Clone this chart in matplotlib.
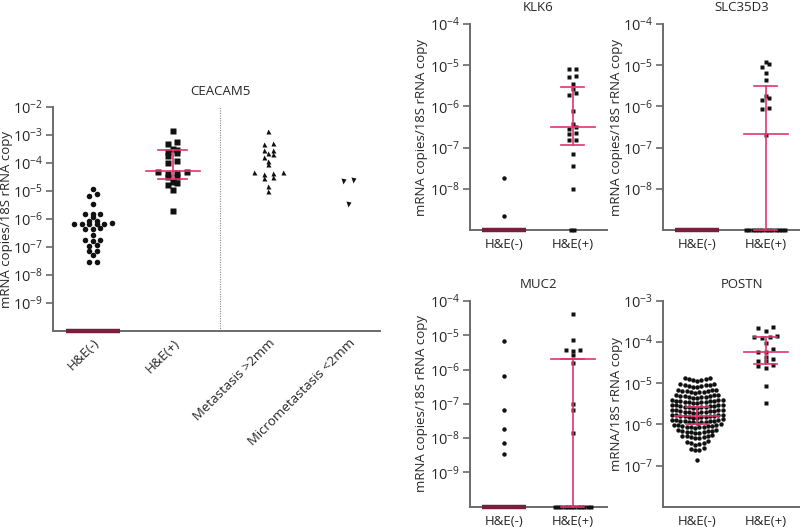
import numpy as np
import matplotlib
matplotlib.use('Agg')
import matplotlib.pyplot as plt
from matplotlib.transforms import blended_transform_factory

plt.rcParams['font.family'] = ['Open Sans', 'DejaVu Sans']
plt.rcParams['mathtext.fontset'] = 'custom'
plt.rcParams['mathtext.rm'] = 'Open Sans'
plt.rcParams['mathtext.default'] = 'regular'

PINK = '#e3336c'
MAROON = '#7b1d3d'
SPINE = '#6a6a6a'
TXT = '#262626'

# ---------------- data ----------------
ceacam_cats = ['H&E(-)', 'H&E(+)', 'Metastasis >2mm', 'Micrometastasis <2mm']
ceacam_neg = [1.2e-5, 8.0e-6, 6.8e-6, 3.5e-6, 1.5e-6, 1.5e-6, 1.5e-6, 1.15e-6,
              8.7e-7, 8.5e-7, 7.0e-7, 6.9e-7, 6.8e-7, 6.6e-7, 6.5e-7, 6.4e-7,
              4.6e-7, 4.5e-7, 4.4e-7, 2.7e-7, 1.8e-7, 1.75e-7, 1.7e-7,
              1.15e-7, 1.1e-7, 7.2e-8, 7.0e-8, 5.0e-8, 2.9e-8, 2.8e-8]
ceacam_pos = [1.4e-3, 5.4e-4, 4.8e-4, 3.1e-4, 3.0e-4, 2.4e-4, 2.2e-4, 1.8e-4,
              1.2e-4, 9.8e-5, 4.9e-5, 4.9e-5, 4.3e-5, 4.1e-5, 3.1e-5, 3.1e-5,
              2.1e-5, 1.9e-5, 1.6e-5, 1.1e-5, 1.9e-6]
ceacam_met = [1.4e-3, 5.0e-4, 4.8e-4, 3.0e-4, 2.9e-4, 2.3e-4, 2.1e-4, 1.7e-4,
              1.2e-4, 9.1e-5, 4.9e-5, 4.9e-5, 4.3e-5, 4.1e-5, 3.2e-5, 3.0e-5,
              1.5e-5, 1.0e-5]
ceacam_micro = [2.5e-5, 2.3e-5, 3.5e-6]
ceacam_med = [0, 5.2e-5]
ceacam_q1 = [0, 2.7e-5]
ceacam_q3 = [0, 3.0e-4]

he_cats = ['H&E(-)', 'H&E(+)']

klk6_neg = [1.8e-8, 2.2e-9]
klk6_pos = [8.3e-6, 7.9e-6, 5.6e-6, 5.2e-6, 3.5e-6, 2.6e-6, 2.1e-6, 1.9e-6,
            7.6e-7, 3.8e-7, 3.1e-7, 2.8e-7, 2.2e-7, 2.1e-7, 1.55e-7, 1.5e-7,
            7.1e-8, 3.5e-8, 1.0e-8]
klk6_zeros = [20, 2]
klk6_med = [0, 3.1e-7]
klk6_q1 = [0, 1.15e-7]
klk6_q3 = [0, 3.0e-6]

slc_neg = []
slc_pos = [1.2e-5, 1.05e-5, 9.1e-6, 6.6e-6, 4.4e-6, 1.8e-6, 1.6e-6, 1.4e-6,
           8.9e-7, 8.5e-7, 2.0e-7]
slc_zeros = [24, 13]
slc_med = [0, 2.1e-7]
slc_q1 = [0, 0]
slc_q3 = [0, 3.1e-6]

muc2_neg = [6.6e-6, 6.6e-7, 6.8e-8, 1.9e-8, 7.4e-9, 3.4e-9]
muc2_pos = [4.1e-5, 7.2e-6, 3.7e-6, 3.6e-6, 3.5e-6, 2.7e-6, 1.6e-6,
            9.8e-8, 6.5e-8, 1.4e-8]
muc2_zeros = [20, 12]
muc2_med = [0, 2.1e-6]
muc2_q1 = [0, 0]
muc2_q3 = [0, 2.1e-6]

postn_neg = [1.15e-5, 1.18e-5, 1.22e-5, 1.26e-5, 1.30e-5, 1.34e-5, 1.38e-5,
             8.1e-6, 8.3e-6, 8.5e-6, 8.7e-6, 8.9e-6, 9.1e-6, 9.3e-6, 9.5e-6, 9.7e-6,
             5.9e-6, 6.0e-6, 6.1e-6, 6.3e-6, 6.4e-6, 6.5e-6, 6.6e-6, 6.8e-6, 6.9e-6, 7.0e-6,
             4.4e-6, 4.45e-6, 4.55e-6, 4.6e-6, 4.7e-6, 4.8e-6, 4.85e-6, 4.95e-6, 5.05e-6, 5.1e-6, 5.2e-6,
             3.31e-6, 3.36e-6, 3.42e-6, 3.47e-6, 3.53e-6, 3.58e-6, 3.63e-6, 3.69e-6, 3.75e-6,
             3.80e-6, 3.86e-6, 3.92e-6, 3.98e-6,
             2.51e-6, 2.55e-6, 2.59e-6, 2.63e-6, 2.68e-6, 2.72e-6, 2.75e-6, 2.80e-6, 2.84e-6,
             2.89e-6, 2.93e-6, 2.97e-6, 3.02e-6,
             1.91e-6, 1.94e-6, 1.97e-6, 2.00e-6, 2.03e-6, 2.06e-6, 2.09e-6, 2.12e-6, 2.15e-6,
             2.19e-6, 2.22e-6, 2.26e-6, 2.29e-6,
             1.45e-6, 1.47e-6, 1.49e-6, 1.52e-6, 1.54e-6, 1.56e-6, 1.59e-6, 1.61e-6, 1.64e-6,
             1.66e-6, 1.69e-6, 1.71e-6, 1.74e-6,
             1.10e-6, 1.12e-6, 1.13e-6, 1.15e-6, 1.17e-6, 1.19e-6, 1.20e-6, 1.22e-6, 1.24e-6,
             1.26e-6, 1.28e-6, 1.30e-6, 1.32e-6,
             8.3e-7, 8.45e-7, 8.6e-7, 8.75e-7, 8.9e-7, 9.05e-7, 9.2e-7, 9.35e-7, 9.5e-7,
             9.65e-7, 9.8e-7, 1.0e-6,
             6.2e-7, 6.3e-7, 6.45e-7, 6.6e-7, 6.7e-7, 6.85e-7, 6.95e-7, 7.1e-7, 7.25e-7, 7.4e-7,
             4.6e-7, 4.7e-7, 4.85e-7, 5.0e-7, 5.1e-7, 5.2e-7, 5.35e-7, 5.5e-7,
             3.25e-7, 3.4e-7, 3.5e-7, 3.6e-7, 3.75e-7, 3.9e-7,
             2.35e-7, 2.45e-7, 2.55e-7, 2.65e-7,
             1.35e-7]
postn_pos = [2.3e-4, 2.2e-4, 1.9e-4, 1.4e-4, 1.35e-4, 1.3e-4, 1.25e-4, 9.5e-5,
             7.0e-5, 5.8e-5, 5.6e-5, 4.4e-5, 3.8e-5, 3.5e-5, 3.4e-5, 2.8e-5,
             2.7e-5, 2.4e-5, 8.5e-6, 3.3e-6]
postn_zeros = [20, 0]
postn_med = [1.6e-6, 5.7e-5]
postn_q1 = [1.0e-6, 2.9e-5]
postn_q3 = [2.6e-6, 1.35e-4]


# ---------------- helpers ----------------
def swarm_offsets(vals, w, dx):
    v = np.asarray(vals, float)
    if v.size == 0:
        return v
    lv = np.log10(v)
    order = np.argsort(lv, kind='stable')
    offs = np.zeros(v.size)
    i = 0
    while i < order.size:
        start = lv[order[i]]
        j = i
        while j < order.size and lv[order[j]] <= start + w:
            j += 1
        idx = order[i:j]
        n = idx.size
        slots = (np.arange(n) - (n - 1) / 2.0) * dx
        slot_order = np.argsort(np.abs(slots) + 1e-9 * np.arange(n), kind='stable')
        for k, s in enumerate(slot_order):
            offs[idx[k]] = slots[s]
        i = j
    return offs


def plot_group(ax, x, vals, marker, ms, w, dx, nzero=0, zdx=0.048, draw_zero=True):
    v = np.asarray(vals, float)
    if v.size:
        off = swarm_offsets(v, w, dx)
        ax.plot(x + off, v, linestyle='none', marker=marker, ms=ms, color='#111111',
                mec='none', zorder=3, clip_on=False)
    if nzero and draw_zero:
        ybot = ax.get_ylim()[0]
        zo = (np.arange(nzero) - (nzero - 1) / 2.0) * zdx
        ax.plot(x + zo, np.full(nzero, ybot), linestyle='none', marker=marker, ms=ms,
                color='#111111', mec='none', zorder=3, clip_on=False)


def draw_stats(ax, x, med, q1, q3, hw_med=0.32, hw_cap=0.17):
    ybot = ax.get_ylim()[0]
    if med == 0 and q3 == 0:
        ax.plot([x - hw_med, x + hw_med], [ybot, ybot], color=MAROON, lw=3.2,
                solid_capstyle='butt', zorder=5, clip_on=False)
        return
    lo = q1 if q1 > 0 else ybot
    hi = q3 if q3 > 0 else ybot
    ax.plot([x, x], [lo, hi], color=PINK, lw=1.2, zorder=4, clip_on=False)
    ax.plot([x - hw_cap, x + hw_cap], [hi, hi], color=PINK, lw=1.2, zorder=4, clip_on=False)
    ax.plot([x - hw_cap, x + hw_cap], [lo, lo], color=PINK, lw=1.2, zorder=4, clip_on=False)
    ax.plot([x - hw_med, x + hw_med], [med, med], color=PINK, lw=1.2, zorder=4, clip_on=False)


def style_axes(ax, lo_exp, hi_exp, top_tick, bottom_tick, ylabel, label_x):
    ax.set_yscale('log')
    ax.set_ylim(10.0 ** lo_exp, 10.0 ** hi_exp)
    ticks_e = list(range(bottom_tick, top_tick + 1))
    ax.set_yticks([10.0 ** e for e in ticks_e])
    ax.set_yticklabels(['$10^{%d}$' % e for e in ticks_e])
    ax.yaxis.set_minor_locator(matplotlib.ticker.NullLocator())
    for s in ['top', 'right']:
        ax.spines[s].set_visible(False)
    for s in ['left', 'bottom']:
        ax.spines[s].set_color(SPINE)
        ax.spines[s].set_linewidth(1.4)
    ax.tick_params(axis='y', length=5, width=1.2, color=SPINE, labelsize=10.5,
                   labelcolor=TXT, pad=2)
    ax.tick_params(axis='x', length=0, labelsize=9.5, labelcolor=TXT, pad=6)
    ax.set_ylabel(ylabel, fontsize=9.5, color=TXT)
    ax.yaxis.set_label_coords(label_x, 0.5)
    ax.patch.set_alpha(0)


fig = plt.figure(figsize=(8.0, 5.27), dpi=100)
W, H = 800.0, 527.0


def px_axes(l, t, r, b):
    return fig.add_axes([l / W, 1 - b / H, (r - l) / W, (b - t) / H])


# ---------------- CEACAM5 ----------------
ax = px_axes(53, 107, 380, 331)
xpos = [0, 1, 2.2, 3.2]
ax.set_xlim(-0.5, 3.6)
style_axes(ax, -10, -2, -2, -9, 'mRNA copies/18S rRNA copy', (13 - 53) / 327.0)
plot_group(ax, xpos[0], ceacam_neg, 'o', 4.0, 0.1, 0.095)
plot_group(ax, xpos[1], ceacam_pos, 's', 4.2, 0.1, 0.12)
plot_group(ax, xpos[2], ceacam_met, '^', 3.6, 0.1, 0.12)
plot_group(ax, xpos[3], ceacam_micro, 'v', 3.6, 0.1, 0.12)
for i in range(2):
    draw_stats(ax, xpos[i], ceacam_med[i], ceacam_q1[i], ceacam_q3[i], hw_med=0.34, hw_cap=0.18)
sep = (xpos[1] + xpos[2]) / 2
ax.axvline(sep, color='#888888', lw=0.8, ls=(0, (1, 1.2)), zorder=1)
ax.set_xticks(xpos)
ax.set_xticklabels(ceacam_cats, rotation=45, ha='right', rotation_mode='anchor')
ax.tick_params(axis='x', pad=4)
tr = blended_transform_factory(ax.transData, ax.transAxes)
ax.text(sep, 1.04, 'CEACAM5', transform=tr, ha='center', va='bottom', fontsize=9.5, color=TXT)

# ---------------- small panels ----------------
panels = [
    ((470, 24, 607, 230), 'KLK6', klk6_neg, klk6_pos, klk6_zeros, klk6_med, klk6_q1, klk6_q3,
     (-9, -4, -4, -8), 'mRNA copies/18S rRNA copy', 0.5, (428 - 470) / 137.0),
    ((663, 24, 800, 230), 'SLC35D3', slc_neg, slc_pos, slc_zeros, slc_med, slc_q1, slc_q3,
     (-9, -4, -4, -8), 'mRNA copies/18S rRNA copy', 0.577, (623 - 663) / 137.0),
    ((470, 301, 607, 506.7), 'MUC2', muc2_neg, muc2_pos, muc2_zeros, muc2_med, muc2_q1, muc2_q3,
     (-10, -4, -4, -9), 'mRNA copies/18S rRNA copy', 0.5, (428 - 470) / 137.0),
    ((663, 301, 800, 506.7), 'POSTN', postn_neg, postn_pos, postn_zeros, postn_med, postn_q1, postn_q3,
     (-8, -3, -3, -7), 'mRNA/18S rRNA copy', 0.577, (623 - 663) / 137.0),
]

for box, title, neg, pos, zeros, med, q1, q3, lim, ylab, tx, lx in panels:
    ax = px_axes(*box)
    ax.set_xlim(-0.5, 1.5)
    style_axes(ax, lim[0], lim[1], lim[2], lim[3], ylab, lx)
    if title == 'POSTN':
        plot_group(ax, 0, neg, 'o', 3.2, 0.09, 0.062, zeros[0], draw_zero=False)
        plot_group(ax, 1, pos, 's', 3.4, 0.1, 0.11, zeros[1])
    else:
        plot_group(ax, 0, neg, 'o', 3.2, 0.1, 0.1, zeros[0], draw_zero=(med[0] != 0))
        plot_group(ax, 1, pos, 's', 3.4, 0.1, 0.1, zeros[1])
    for i in range(2):
        draw_stats(ax, i, med[i], q1[i], q3[i])
    ax.set_xticks([0, 1])
    ax.set_xticklabels(he_cats)
    ax.text(tx, 1.0 + 10.0 / (box[3] - box[1]), title, transform=ax.transAxes,
            ha='center', va='bottom', fontsize=9.5, color=TXT)

fig.savefig('out.png', dpi=100)
